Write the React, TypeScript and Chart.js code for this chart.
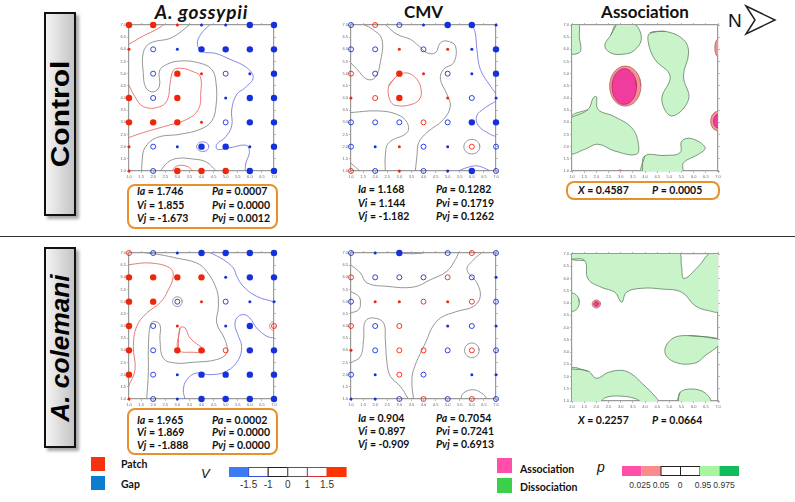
import React, { useEffect, useRef } from "react";
import { Chart, registerables } from "chart.js";
Chart.register(...registerables);

// ---------- DATA ----------
const gridX = [1, 2, 3, 4, 5, 6, 7];
const gridY = [7, 6, 5, 4, 3, 2, 1];
const axisTicks = [1, 1.5, 2, 2.5, 3, 3.5, 4, 4.5, 5, 5.5, 6, 6.5, 7];

// V index per grid node (rows y=7..1, columns x=1..7)
const vGossypiiControl = [
  [2.2, 2.2, 1.2, -1.2, -1.2, -2.2, -2.2],
  [1.2, -0.5, -1.2, -2.2, -2.2, -2.2, -2.2],
  [0, -0.5, 2.2, 1.2, -0.5, -1.2, -2.2],
  [2.2, -0.5, 2.2, 0, -1.2, -2.2, -2.2],
  [2.2, 2.2, 2.2, 1.2, -0.5, -2.2, -2.2],
  [1.2, -0.5, -1.2, -2.2, -2.2, -1.2, -2.2],
  [1.2, -0.5, 2.2, 2.2, 2.2, -2.2, -2.2],
];
const vCmvControl = [
  [-0.5, 0.5, -0.5, -1.2, -2.2, -2.2, -1.2],
  [-0.5, -0.5, 1.2, -0.5, 1.2, -1.2, -2.2],
  [0.5, -0.5, 2.2, 1.2, -0.5, -1.2, -2.2],
  [1.2, 0.5, 2.2, 0, 1.2, -0.5, -1.2],
  [-0.5, -0.5, -0.5, 0.5, -0.5, -2.2, -2.2],
  [-0.5, -1.2, 1.2, -0.5, -1.2, 0.5, -0.5],
  [0.5, -0.5, 1.2, -0.5, -1.2, -2.2, -0.5],
];
const vGossypiiColemani = [
  [0.5, -0.5, -1.2, -2.2, -2.2, -2.2, -2.2],
  [2.2, 2.2, 2.2, 2.2, -1.2, -2.2, -2.2],
  [2.2, 2.2, -0.5, 1.2, -0.5, -1.2, -1.2],
  [2.2, -0.5, 1.2, 0, -1.2, -2.2, 0.5],
  [2.2, -0.5, 2.2, 2.2, 0.5, -2.2, -2.2],
  [2.2, -0.5, -1.2, -2.2, -2.2, -2.2, -2.2],
  [1.2, -0.5, -1.2, -2.2, -2.2, -2.2, -2.2],
];
const vCmvColemani = [
  [-0.5, -1.2, -2.2, 0, -0.5, 0.5, -0.5],
  [0.5, -0.5, -0.5, -0.5, 0.5, -0.5, -1.2],
  [-0.5, 1.2, 1.2, 0.5, 1.2, 0.5, -0.5],
  [0.5, -0.5, 0.5, 0, -1.2, -0.5, -1.2],
  [1.2, -0.5, 0.5, 0.5, -0.5, 0.5, -0.5],
  [-0.5, -1.2, 0.5, -0.5, 0, -1.2, -1.2],
  [-1.2, -1.2, -0.5, 0.5, -0.5, 0.5, -0.5],
];

// contour lines (level, data-space path) ; ell = [cx, cy, rx, ry]
const cGossypiiControl = [
  { level: 1.5, pts: [[1, 6.21], [1.59, 6.55], [2.14, 6.82], [2.49, 7.05]] },
  { level: 1.5, pts: [[0.98, 4.56], [1.25, 4.05], [1.6, 3.64], [2.28, 3.64], [2.6, 3.95], [2.7, 4.6], [2.85, 5.15], [3.2, 5.22], [3.6, 5.1], [3.94, 4.9], [3.97, 4.2], [3.87, 3.53], [3.39, 3.12], [2.42, 2.82], [1.59, 2.58], [0.98, 2.37]] },
  { level: 1.5, pts: [[2.77, 0.98], [2.97, 1.2], [3.39, 1.2], [3.66, 0.98]] },
  { level: 0, pts: [[3.52, 7.02], [2.77, 6.48], [1.87, 6.25], [1.59, 5.86], [1.59, 5.04], [1.7, 4.42], [2.01, 4.25], [2.26, 4.49], [2.26, 5.11], [2.56, 5.38], [3.11, 5.52], [3.87, 5.45], [4.42, 5.18], [4.6, 4.63], [4.6, 3.67], [4.42, 3.05], [3.94, 2.71], [3.11, 2.51], [2.14, 2.37], [1.66, 1.96], [1.55, 1.48], [1.52, 0.98]] },
  { level: 0, pts: [[2.28, 0.98], [2.6, 1.35], [3.0, 1.52], [3.66, 1.49], [4.2, 1.37], [4.63, 0.98]] },
  { level: -1.5, pts: [[4.35, 7.02], [3.97, 6.62], [3.83, 6.21], [4.05, 5.9], [4.56, 5.84], [5.18, 5.59], [5.87, 5.25], [6.14, 4.84], [5.8, 4.42], [5.46, 4.15], [5.25, 3.53], [5.25, 2.85], [4.97, 2.37], [4.63, 2.1], [4.66, 1.89], [5.18, 1.96], [5.87, 2.05], [5.98, 1.75], [5.84, 1.34], [5.8, 0.98]] },
  { level: -1.5, ell: [4.05, 2.0, 0.25, 0.2] },
];
const cCmvControl = [
  { level: 0, pts: [[1.52, 7.02], [1.9, 6.82], [2.28, 6.41], [2.21, 5.45], [2.0, 4.84], [1.66, 4.77], [1.25, 5.18], [0.98, 5.45]] },
  { level: 0, pts: [[2.42, 7.02], [2.9, 6.62], [3.46, 6.41], [3.8, 6.14], [4.14, 5.86], [4.49, 5.86], [4.7, 6.27], [4.97, 6.34], [5.32, 6.14], [5.25, 5.45], [4.83, 5.18], [4.7, 4.77], [4.97, 4.15], [5.11, 3.67], [4.83, 3.12], [4.14, 2.58], [3.8, 2.16], [3.73, 1.62], [3.66, 0.98]] },
  { level: 0, pts: [[0.98, 3.4], [2.08, 3.47], [2.9, 3.33], [3.32, 2.99], [3.32, 2.58], [2.56, 2.16], [2.42, 1.62], [2.42, 0.98]] },
  { level: 0, ell: [6.0, 2.0, 0.33, 0.3] },
  { level: 0, pts: [[0.98, 1.34], [1.39, 0.98]] },
  { level: 1.5, pts: [[2.83, 4.84], [2.56, 4.49], [2.6, 3.94], [2.83, 3.7], [3.52, 3.74], [3.87, 4.01], [3.87, 4.49], [3.66, 4.84], [3.32, 5.03], [2.97, 4.95], [2.83, 4.84], [2.56, 4.49]] },
  { level: -1.5, pts: [[6.0, 7.02], [6.14, 6.68], [6.21, 6.0], [6.35, 5.18], [6.77, 4.49], [7.02, 4.15]] },
  { level: -1.5, pts: [[7.02, 3.88], [6.55, 3.6], [6.2, 3.26], [6.28, 2.85], [6.76, 2.51], [7.02, 2.41]] },
  { level: -1.5, pts: [[5.39, 0.98], [5.8, 1.14], [6.21, 1.21], [6.63, 1.07], [6.77, 0.98]] },
];
const cGossypiiColemani = [
  { level: 1.5, pts: [[0.98, 6.52], [1.87, 6.59], [2.7, 6.38], [2.83, 6.04], [2.63, 5.49], [2.28, 4.95], [1.73, 4.53], [1.32, 3.99], [1.18, 3.16], [1.25, 2.21], [0.98, 1.52]] },
  { level: 1.5, pts: [[3.11, 3.92], [3.04, 3.03], [3.66, 2.92], [4.14, 2.96], [3.52, 3.51], [3.32, 3.92], [3.11, 3.92], [3.04, 3.03]] },
  { level: 1.5, ell: [7.0, 4.0, 0.18, 0.18] },
  { level: 0, pts: [[1.59, 7.02], [2.28, 6.93], [2.97, 6.79], [3.8, 6.59], [4.21, 6.25], [4.63, 5.49], [4.7, 4.81], [4.63, 4.12], [4.97, 3.44], [5.04, 2.89], [4.63, 2.62], [3.66, 2.51], [2.9, 2.48], [2.42, 2.68], [2.28, 3.44], [2.28, 4.05], [2.01, 4.19], [1.87, 3.99], [1.8, 3.03], [1.8, 2.07], [1.73, 0.98]] },
  { level: 0, ell: [3.0, 5.0, 0.2, 0.2] },
  { level: -1.5, pts: [[4.35, 7.02], [4.9, 6.73], [5.32, 6.38], [5.46, 6.04], [5.73, 5.63], [6.28, 5.22], [7.02, 4.99]] },
  { level: -1.5, pts: [[7.02, 3.5], [6.7, 3.58], [6.28, 3.92], [6.0, 4.33], [5.73, 4.47], [5.46, 4.33], [5.39, 3.99], [5.53, 3.58], [5.66, 3.16], [5.53, 2.62], [5.04, 2.14], [4.35, 2.0], [3.8, 2.07], [3.39, 1.79], [3.25, 1.38], [3.32, 0.98]] },
];
const cCmvColemani = [
  { level: 0, pts: [[0.98, 6.52], [1.39, 6.18], [1.66, 5.77], [2.49, 5.63], [3.59, 5.6], [4.28, 5.9], [4.97, 6.25], [5.32, 6.73], [5.46, 7.02]] },
  { level: 0, pts: [[0.98, 5.42], [1.32, 5.22], [1.39, 4.95], [1.32, 4.67], [0.98, 4.53]] },
  { level: 0, pts: [[0.98, 2.48], [1.39, 2.75], [1.52, 3.44], [1.59, 4.19], [1.94, 4.33], [2.35, 4.12], [2.42, 3.44], [2.49, 2.48], [2.63, 1.93], [3.04, 1.52], [3.39, 0.98]] },
  { level: 0, pts: [[3.59, 0.98], [3.52, 1.66], [3.59, 2.21], [4.14, 3.44], [4.35, 3.92], [4.7, 4.33], [5.39, 4.6], [6.08, 4.81], [6.35, 5.22], [6.21, 5.77], [5.8, 6.32], [6.08, 6.73], [6.42, 7.02]] },
  { level: 0, ell: [6.0, 3.0, 0.3, 0.3] },
  { level: 0, pts: [[5.53, 0.98], [5.66, 1.25], [6.08, 1.38], [6.49, 1.18], [6.63, 0.98]] },
  { level: -1.5, pts: [[3.05, 7.0], [3.5, 6.97], [4.0, 7.0]] },
];

// association / dissociation regions
const rAssocControl = [
  { kind: "dis", pts: [[0.95, 7.05], [1.27, 7.05], [1.3, 6.5], [1.36, 5.95], [1.2, 5.82], [0.95, 5.85]] },
  { kind: "dis", pts: [[2.85, 7.05], [2.6, 6.6], [2.35, 6.15], [2.6, 5.85], [3.1, 5.8], [3.55, 5.95], [3.85, 6.45], [3.55, 7.05]] },
  { kind: "dis", pts: [[4.2, 6.67], [4.82, 6.74], [5.58, 6.4], [5.79, 5.85], [5.58, 4.9], [5.79, 3.94], [5.1, 3.26], [4.69, 3.94], [5.03, 4.9], [4.41, 5.58], [4.14, 6.26]] },
  { kind: "dis", pts: [[0.95, 3.19], [1.66, 3.53], [1.87, 4.0], [2.0, 4.05], [2.07, 3.53], [2.69, 3.26], [3.45, 2.78], [3.72, 2.16], [3.65, 1.69], [2.76, 1.82], [2.07, 2.1], [1.52, 1.89], [0.95, 1.75]] },
  { kind: "dis", pts: [[3.89, 0.95], [3.99, 1.62], [4.82, 1.64], [5.44, 1.75], [5.51, 2.23], [5.92, 2.33], [6.47, 1.96], [6.2, 1.69], [5.58, 1.34], [5.51, 0.95]] },
  { kind: "a05", ell: [3.19, 4.49, 0.64, 0.82] },
  { kind: "a025", ell: [3.15, 4.47, 0.5, 0.73] },
  { kind: "a05", ell: [7.0, 6.06, 0.13, 0.35] },
  { kind: "a05", ell: [7.0, 3.05, 0.3, 0.4] },
  { kind: "a025", ell: [7.0, 3.05, 0.18, 0.28] },
  { kind: "a05", ell: [2.97, 1.0, 0.06, 0.05] },
];
const rAssocColemani = [
  { kind: "dis", pts: [[0.95, 6.8], [1.52, 6.73], [1.66, 5.98], [2.21, 5.64], [2.76, 5.44], [3.04, 5.03], [3.24, 5.44], [3.86, 5.6], [4.69, 5.57], [5.51, 5.44], [6.06, 4.89], [6.61, 4.69], [7.05, 4.69], [7.05, 7.05], [6.68, 7.05], [6.2, 6.5], [5.6, 6.0], [5.5, 6.5], [5.35, 7.05], [0.95, 7.05]] },
  { kind: "dis", ell: [1.0, 5.03, 0.3, 0.37] },
  { kind: "dis", pts: [[7.05, 3.53], [5.79, 3.67], [5.1, 3.53], [4.82, 2.99], [5.24, 2.58], [6.06, 2.55], [6.47, 2.85], [7.05, 3.3]] },
  { kind: "dis", pts: [[0.95, 2.31], [1.66, 2.22], [2.0, 1.93], [2.5, 2.17], [3.05, 2.25], [3.45, 2.1], [3.9, 1.7], [4.45, 1.15], [4.55, 0.95], [3.9, 0.95], [3.6, 1.1], [3.0, 1.2], [2.4, 1.15], [2.1, 0.95], [0.95, 0.95]] },
  { kind: "dis", pts: [[5.37, 0.95], [5.44, 1.35], [5.92, 1.49], [6.47, 1.33], [6.68, 0.95]] },
  { kind: "a05", ell: [2.0, 4.96, 0.17, 0.16] },
  { kind: "a025", ell: [2.0, 4.96, 0.09, 0.09] },
];

const sadieLabels = ["Ia", "Vi", "Vj"];
const sadiePLabels = ["Pa", "Pvi", "Pvj"];
const statsGossypiiControl = ["1.746", "1.855", "-1.673"];
const pGossypiiControl = ["0.0007", "0.0000", "0.0012"];
const statsCmvControl = ["1.168", "1.144", "-1.182"];
const pCmvControl = ["0.1282", "0.1719", "0.1262"];
const statsGossypiiColemani = ["1.965", "1.869", "-1.888"];
const pGossypiiColemani = ["0.0002", "0.0000", "0.0000"];
const statsCmvColemani = ["0.904", "0.897", "-0.909"];
const pCmvColemani = ["0.7054", "0.7241", "0.6913"];
const assocControl = ["0.4587", "0.0005"];
const assocColemani = ["0.2257", "0.0664"];

const vBarTicks = ["-1.5", "-1", "0", "1", "1.5"];
const pBarTicks = ["0.025", "0.05", "0", "0.95", "0.975"];

// ---------- STYLE ----------
const RED = "#f0260a";
const BLUE = "#1530dc";
const LEVEL_COLOR: Record<string, string> = { "1.5": "#e86a6a", "0": "#8a8a8a", "-1.5": "#7878e6" };
const REGION_STYLE: Record<string, any> = {
  dis: { bg: "#c9f4c9", border: "#5f7f5f", order: 5 },
  a05: { bg: "#f2938f", border: "#b06060", order: 4 },
  a025: { bg: "#f03c9c", border: "#c02070", order: 3 },
};
const ORANGE = "#e8912a";
const PL = 14, PB = 9, PT = 4, PR = 4;

function ellipsePts(e: number[]) {
  const [cx, cy, rx, ry] = e;
  const out: number[][] = [];
  for (let i = 0; i < 16; i++) {
    const a = (i / 16) * Math.PI * 2;
    out.push([cx + rx * Math.cos(a), cy + ry * Math.sin(a)]);
  }
  return out;
}
function closeLoop(p: number[][]) {
  return [...p, p[0], p[1]];
}
const toXY = (p: number[][]) => p.map(([x, y]) => ({ x, y }));

function pointDataset(v: number[][]) {
  const data: any[] = [];
  gridY.forEach((y, r) => gridX.forEach((x, c) => data.push({ x, y, v: v[r][c] })));
  return {
    type: "scatter",
    data,
    order: 0,
    clip: false,
    pointRadius: (ctx: any) => {
      const a = Math.abs(ctx.raw?.v ?? 0);
      if (a === 0) return 0;
      if (a >= 1.5) return 3.2;
      if (a >= 1) return 1.5;
      return 2.5;
    },
    pointBackgroundColor: (ctx: any) => {
      const val = ctx.raw?.v ?? 0;
      if (Math.abs(val) < 1) return "rgba(255,255,255,0)";
      return val > 0 ? RED : BLUE;
    },
    pointBorderColor: (ctx: any) => ((ctx.raw?.v ?? 0) > 0 ? RED : BLUE),
    pointBorderWidth: (ctx: any) => (Math.abs(ctx.raw?.v ?? 0) < 1 ? 0.9 : 0),
    pointHoverRadius: 0,
  };
}

function contourDatasets(cs: any[]) {
  return cs.map((c) => ({
    type: "line",
    data: toXY(c.ell ? closeLoop(ellipsePts(c.ell)) : c.pts),
    borderColor: LEVEL_COLOR[String(c.level)],
    borderWidth: 0.9,
    pointRadius: 0,
    tension: 0.4,
    showLine: true,
    fill: false,
    order: 1,
    clip: 0,
  }));
}

function regionDatasets(rs: any[]) {
  return rs.map((r) => {
    const st = REGION_STYLE[r.kind];
    return {
      type: "line",
      data: toXY(closeLoop(r.ell ? ellipsePts(r.ell) : r.pts)),
      borderColor: st.border,
      backgroundColor: st.bg,
      borderWidth: 0.8,
      pointRadius: 0,
      tension: 0.4,
      showLine: true,
      fill: "shape",
      order: st.order,
      clip: 0,
    };
  });
}

function axis(pos: string) {
  const isX = pos === "bottom" || pos === "top";
  const shown = pos === "bottom" || pos === "left";
  return {
    type: "linear",
    axis: isX ? "x" : "y",
    position: pos,
    min: 1,
    max: 7,
    afterBuildTicks: (s: any) => {
      s.ticks = axisTicks.map((value) => ({ value }));
    },
    grid: { drawOnChartArea: false, drawTicks: true, tickLength: 2, color: "#9a9a9a", lineWidth: 0.7 },
    border: { display: true, color: "#9a9a9a", width: 1.2 },
    ticks: {
      display: shown,
      font: { size: 4, family: "Liberation Sans" },
      color: "#666",
      padding: 1,
      autoSkip: false,
      maxRotation: 0,
    },
    afterFit: (s: any) => {
      if (pos === "left") s.width = PL;
      else if (pos === "right") s.width = PR;
      else if (pos === "top") s.height = PT;
      else s.height = PB;
    },
  };
}

function Panel(props: { left: number; top: number; w: number; h: number; datasets: any[] }) {
  const ref = useRef<HTMLCanvasElement>(null);
  const cw = props.w + PL + PR;
  const ch = props.h + PT + PB;
  useEffect(() => {
    const chart = new Chart(ref.current as HTMLCanvasElement, {
      type: "scatter",
      data: { datasets: props.datasets },
      options: {
        animation: false,
        responsive: false,
        events: [],
        devicePixelRatio: 1,
        layout: { padding: 0, autoPadding: false },
        plugins: { legend: { display: false }, tooltip: { enabled: false } },
        scales: { x: axis("bottom"), y: axis("left"), x2: axis("top"), y2: axis("right") },
      },
    } as any);
    return () => chart.destroy();
  }, []);
  return (
    <canvas
      ref={ref}
      width={cw}
      height={ch}
      style={{ position: "absolute", left: props.left - PL, top: props.top - PT, width: cw, height: ch }}
    />
  );
}

const txt: React.CSSProperties = { position: "absolute", fontFamily: "Lato, 'Liberation Sans', sans-serif", fontWeight: 700, color: "#111", whiteSpace: "nowrap" };

function StatsBlock(props: { left: number; rightCol: number; top: number; lh: number; vals: string[]; ps: string[] }) {
  return (
    <>
      {sadieLabels.map((l, i) => (
        <div key={"a" + i} style={{ ...txt, left: props.left, top: props.top + i * props.lh, fontSize: 10.5, lineHeight: props.lh + "px" }}>
          <i>{l}</i> = {props.vals[i]}
        </div>
      ))}
      {sadiePLabels.map((l, i) => (
        <div key={"b" + i} style={{ ...txt, left: props.rightCol, top: props.top + i * props.lh, fontSize: 10.5, lineHeight: props.lh + "px" }}>
          <i>{l}</i> = {props.ps[i]}
        </div>
      ))}
    </>
  );
}

function OrangeBox(props: { left: number; top: number; w: number; h: number }) {
  return (
    <div style={{ position: "absolute", left: props.left, top: props.top, width: props.w, height: props.h, border: `2.5px solid ${ORANGE}`, borderRadius: 8, boxSizing: "border-box" }} />
  );
}

function RowLabel(props: { top: number; h: number; text: string; italic?: boolean; scale: number }) {
  return (
    <div
      style={{
        position: "absolute",
        left: 44,
        top: props.top,
        width: 32,
        height: props.h,
        boxSizing: "border-box",
        border: "2px solid #111",
        background: "linear-gradient(to right, #f4f4f4, #c4c4c4)",
        boxShadow: "3px 3px 3px rgba(0,0,0,0.35)",
      }}
    >
      <div
        style={{
          position: "absolute",
          left: "50%",
          top: "50%",
          transform: `translate(-50%, -50%) rotate(-90deg) scaleX(${props.scale})`,
          fontFamily: "'Liberation Sans', Arial, sans-serif",
          fontWeight: 700,
          fontStyle: props.italic ? "italic" : "normal",
          fontSize: 25,
          whiteSpace: "nowrap",
          color: "#000",
        }}
      >
        {props.text}
      </div>
    </div>
  );
}

export default function App() {
  const W = 145, H = 146;
  const colLeft = [129, 351, 572];
  const rowTop = [25, 253];
  return (
    <div style={{ position: "absolute", left: 0, top: 0, width: 795, height: 502, background: "#fff", overflow: "hidden" }}>
      {/* headers */}
      <div style={{ ...txt, left: 129, width: 145, top: 0, textAlign: "center", fontSize: 19, fontStyle: "italic", lineHeight: "24px", letterSpacing: 0.8 }}>A. gossypii</div>
      <div style={{ ...txt, left: 351, width: 145, top: 0, textAlign: "center", fontSize: 17, lineHeight: "24px" }}>CMV</div>
      <div style={{ ...txt, left: 572, width: 146, top: 0, textAlign: "center", fontSize: 17, lineHeight: "24px" }}>Association</div>
      <svg style={{ position: "absolute", left: 725, top: 4 }} width={60} height={34}>
        <text x={3} y={23} fontSize={19} fontFamily="'Liberation Sans', Arial" fill="#111">N</text>
        <polygon points="21,2 50,16 21,30 30,16" fill="#fff" stroke="#222" strokeWidth={1.5} strokeLinejoin="miter" />
      </svg>

      <RowLabel top={12} h={204} text="Control" scale={1.2} />
      <RowLabel top={247} h={201} text="A. colemani" italic scale={1.05} />

      <div style={{ position: "absolute", left: 0, top: 236, width: 795, height: 1, background: "#333" }} />

      {/* panels */}
      <Panel left={colLeft[0]} top={rowTop[0]} w={W} h={H} datasets={[pointDataset(vGossypiiControl), ...contourDatasets(cGossypiiControl)]} />
      <Panel left={colLeft[1]} top={rowTop[0]} w={W} h={H} datasets={[pointDataset(vCmvControl), ...contourDatasets(cCmvControl)]} />
      <Panel left={colLeft[2]} top={rowTop[0]} w={W + 1} h={H} datasets={regionDatasets(rAssocControl)} />
      <Panel left={colLeft[0]} top={rowTop[1]} w={W} h={H} datasets={[pointDataset(vGossypiiColemani), ...contourDatasets(cGossypiiColemani)]} />
      <Panel left={colLeft[1]} top={rowTop[1]} w={W} h={H} datasets={[pointDataset(vCmvColemani), ...contourDatasets(cCmvColemani)]} />
      <Panel left={colLeft[2]} top={rowTop[1] + 1} w={W + 1} h={H + 1} datasets={regionDatasets(rAssocColemani)} />

      {/* stats */}
      <OrangeBox left={127} top={184} w={151} h={45} />
      <StatsBlock left={137} rightCol={212} top={185} lh={13.5} vals={statsGossypiiControl} ps={pGossypiiControl} />
      <StatsBlock left={358} rightCol={436} top={183} lh={13.5} vals={statsCmvControl} ps={pCmvControl} />
      <OrangeBox left={566} top={181} w={154} h={19} />
      <div style={{ ...txt, left: 578, top: 183, fontSize: 10.5, lineHeight: "14px" }}><i>X</i> = {assocControl[0]}</div>
      <div style={{ ...txt, left: 652, top: 183, fontSize: 10.5, lineHeight: "14px" }}><i>P</i> = {assocControl[1]}</div>

      <OrangeBox left={127} top={408} w={151} h={47} />
      <StatsBlock left={137} rightCol={212} top={413.5} lh={12.7} vals={statsGossypiiColemani} ps={pGossypiiColemani} />
      <StatsBlock left={358} rightCol={436} top={411.5} lh={13} vals={statsCmvColemani} ps={pCmvColemani} />
      <div style={{ ...txt, left: 578, top: 413, fontSize: 10.5, lineHeight: "14px" }}><i>X</i> = {assocColemani[0]}</div>
      <div style={{ ...txt, left: 652, top: 413, fontSize: 10.5, lineHeight: "14px" }}><i>P</i> = {assocColemani[1]}</div>

      {/* legend left */}
      <div style={{ position: "absolute", left: 91, top: 457, width: 14, height: 14, background: "#f5320f" }} />
      <div style={{ position: "absolute", left: 91, top: 476, width: 14, height: 14, background: "#0d7dd0" }} />
      <div style={{ ...txt, left: 121, top: 457, fontSize: 10.5, lineHeight: "14px" }}>Patch</div>
      <div style={{ ...txt, left: 121, top: 477, fontSize: 10.5, lineHeight: "14px" }}>Gap</div>
      <div style={{ ...txt, left: 201, top: 466, fontSize: 13, fontWeight: 400, fontStyle: "italic", fontFamily: "'Liberation Sans', Arial", lineHeight: "16px" }}>V</div>
      <svg style={{ position: "absolute", left: 226, top: 464 }} width={126} height={16}>
        <rect x={3} y={3} width={19.6} height={10} fill="#3d7cf0" />
        <rect x={22.6} y={3.5} width={19.6} height={9} fill="#fff" stroke="#3050d0" strokeWidth={1} />
        <rect x={42.2} y={3.5} width={19.6} height={9} fill="#fff" stroke="#222" strokeWidth={1} />
        <rect x={61.8} y={3.5} width={19.6} height={9} fill="#fff" stroke="#555" strokeWidth={1} />
        <rect x={81.4} y={3.5} width={19.6} height={9} fill="#fff" stroke="#d03030" strokeWidth={1} />
        <rect x={101} y={3} width={19.6} height={10} fill="#ff3300" />
      </svg>
      {vBarTicks.map((t, i) => (
        <div key={t} style={{ position: "absolute", left: 248.6 + i * 19.6 - 15, width: 30, top: 479, textAlign: "center", fontFamily: "'Liberation Sans', Arial", fontSize: 10, color: "#333", lineHeight: "12px" }}>{t}</div>
      ))}

      {/* legend right */}
      <div style={{ position: "absolute", left: 497, top: 458, width: 15, height: 15, background: "#ff4fa8" }} />
      <div style={{ position: "absolute", left: 497, top: 478, width: 15, height: 15, background: "#3ccf4a" }} />
      <div style={{ ...txt, left: 520, top: 462, fontSize: 10.5, lineHeight: "14px" }}>Association</div>
      <div style={{ ...txt, left: 520, top: 480, fontSize: 10.5, lineHeight: "14px" }}>Dissociation</div>
      <div style={{ ...txt, left: 597, top: 459, fontSize: 14, fontWeight: 400, fontStyle: "italic", fontFamily: "'Liberation Sans', Arial", lineHeight: "16px" }}>p</div>
      <svg style={{ position: "absolute", left: 619, top: 463 }} width={124} height={16}>
        <rect x={3} y={3} width={19.5} height={10} fill="#ff4fa8" />
        <rect x={22.5} y={3} width={19.5} height={10} fill="#fa8c8c" />
        <rect x={42} y={3.5} width={19.5} height={9} fill="#fff" stroke="#222" strokeWidth={1} />
        <rect x={61.5} y={3.5} width={19.5} height={9} fill="#fff" stroke="#222" strokeWidth={1} />
        <rect x={81} y={3} width={19.5} height={10} fill="#a8f4a0" />
        <rect x={100.5} y={3} width={19.5} height={10} fill="#10bc5c" />
      </svg>
      {pBarTicks.map((t, i) => (
        <div key={t} style={{ position: "absolute", left: [640, 661, 680, 703, 724][i] - 15, width: 30, top: 479, textAlign: "center", fontFamily: "'Liberation Sans', Arial", fontSize: 8.5, color: "#333", lineHeight: "12px" }}>{t}</div>
      ))}
    </div>
  );
}
